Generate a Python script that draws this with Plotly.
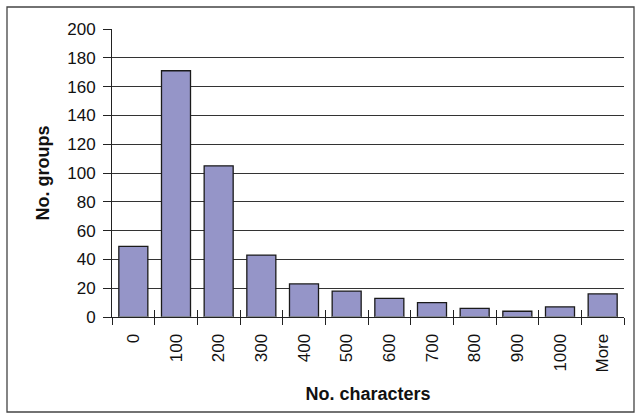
import plotly.graph_objects as go

# Histogram of group description lengths
categories = ["0", "100", "200", "300", "400", "500", "600", "700", "800", "900", "1000", "More"]
group_counts = [49, 171, 105, 43, 23, 18, 13, 10, 6, 4, 7, 16]
y_ticks = [0, 20, 40, 60, 80, 100, 120, 140, 160, 180, 200]

W, H = 641, 418
ML, MR, MT, MB = 112, 17, 29, 101
FONT = "Liberation Sans, Arial, sans-serif"

fig = go.Figure()
fig.add_trace(go.Bar(
    x=categories, y=group_counts,
    marker=dict(color="#9595C8", line=dict(color="#1a1a1a", width=1.3)),
    showlegend=False,
))

# second, invisible axis used only to draw inward tick marks at category boundaries
fig.add_trace(go.Bar(x=categories, y=[0] * len(categories), xaxis="x2",
                     showlegend=False, hoverinfo="skip"))

fig.update_layout(
    width=W, height=H,
    margin=dict(l=ML, r=MR, t=MT, b=MB),
    paper_bgcolor="white", plot_bgcolor="white",
    bargap=0.32,
    font=dict(family=FONT, size=17, color="#111"),
    xaxis=dict(
        type="category",
        tickangle=-90,
        ticks="outside", ticklen=7, tickcolor="#222", tickwidth=1,
        tickson="boundaries",
        showline=True, linecolor="#222", linewidth=1,
        showgrid=False,
        tickfont=dict(size=17),
        ticklabelstandoff=9,
        title=dict(text="<b>No. characters</b>", font=dict(size=18), standoff=15),
    ),
    xaxis2=dict(
        type="category", overlaying="x", matches="x",
        ticks="inside", ticklen=7, tickcolor="#222", tickwidth=1,
        tickson="boundaries", showticklabels=False, showgrid=False,
        side="bottom", anchor="y",
    ),
    yaxis=dict(
        range=[0, 200], tickvals=y_ticks,
        ticks="outside", ticklen=8, tickcolor="#222", tickwidth=1,
        showline=True, linecolor="#222", linewidth=1,
        showgrid=True, gridcolor="#333", gridwidth=1,
        zeroline=False,
        tickfont=dict(size=17),
        ticklabelstandoff=4,
        title=dict(text="<b>No. groups</b>", font=dict(size=18), standoff=12),
    ),
    shapes=[dict(
        type="rect", xref="paper", yref="paper",
        x0=(7 - ML) / (W - ML - MR), x1=(634 - ML) / (W - ML - MR),
        y0=(H - MB - 412) / (H - MT - MB), y1=(H - MB - 7) / (H - MT - MB),
        line=dict(color="#444", width=1.3), fillcolor="rgba(0,0,0,0)", layer="below",
    )],
)

fig.write_html("out.html")
